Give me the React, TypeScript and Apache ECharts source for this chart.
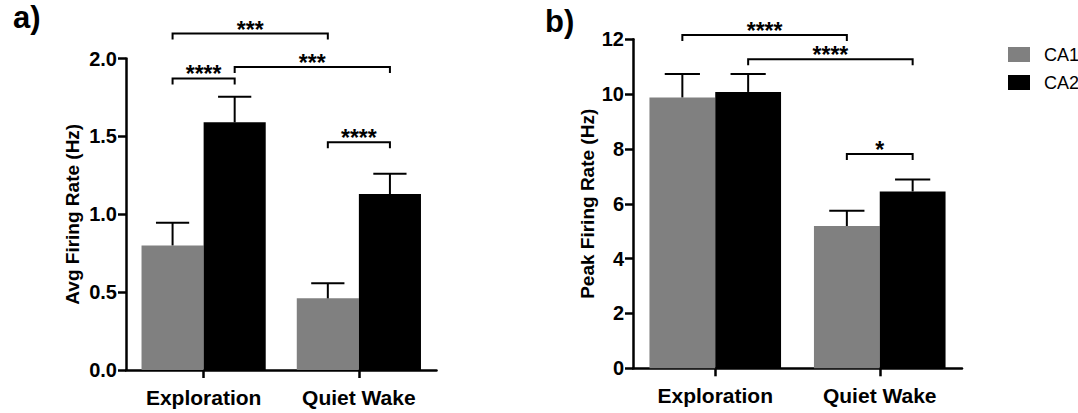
import React, { useEffect, useRef } from "react";
import * as echarts from "echarts";

const categories = ["Exploration", "Quiet Wake"];
const groupNames = ["CA1", "CA2"];
const groupColors = ["#808080", "#000000"];

// Panel a) Avg firing rate (Hz)
const avgCA1 = [0.8, 0.46];
const avgCA1Sem = [0.145, 0.097];
const avgCA2 = [1.59, 1.13];
const avgCA2Sem = [0.165, 0.13];
const avgTicks = { min: 0, max: 2, interval: 0.5 };
// [category1, group1, category2, group2, bracket level]
const avgBracketPairs = [
  [0, 0, 1, 0, 2.16],
  [0, 1, 1, 1, 1.945],
  [0, 0, 0, 1, 1.872],
  [1, 0, 1, 1, 1.462],
];
const avgBracketLabels = ["***", "***", "****", "****"];

// Panel b) Peak firing rate (Hz)
const peakCA1 = [9.88, 5.19];
const peakCA1Sem = [0.85, 0.56];
const peakCA2 = [10.08, 6.45];
const peakCA2Sem = [0.65, 0.44];
const peakTicks = { min: 0, max: 12, interval: 2 };
const peakBracketPairs = [
  [0, 0, 1, 0, 12.16],
  [0, 1, 1, 1, 11.27],
  [1, 0, 1, 1, 7.82],
];
const peakBracketLabels = ["****", "****", "*"];

const FONT = '"Liberation Sans", Arial, Helvetica, sans-serif';
const BAR_OFFSET = 0.2; // fraction of band from center to each bar center

function errorData(m1: number[], s1: number[], m2: number[], s2: number[]) {
  const out: number[][] = [];
  categories.forEach((_, i) => {
    out.push([i, 0, m1[i], m1[i] + s1[i]]);
    out.push([i, 1, m2[i], m2[i] + s2[i]]);
  });
  return out;
}

function errorRender(params: any, api: any) {
  const cat = api.value(0);
  const g = api.value(1);
  const band = api.size([1, 0])[0];
  const base = api.coord([cat, api.value(2)]);
  const top = api.coord([cat, api.value(3)]);
  const x = base[0] + (g === 0 ? -1 : 1) * BAR_OFFSET * band;
  const hw = 0.107 * band;
  const style = { stroke: "#000", lineWidth: 2, fill: null };
  return {
    type: "group",
    children: [
      { type: "line", shape: { x1: x, y1: base[1], x2: x, y2: top[1] }, style },
      { type: "line", shape: { x1: x - hw, y1: top[1], x2: x + hw, y2: top[1] }, style },
    ],
  };
}

function bracketRender(labels: string[]) {
  return (params: any, api: any) => {
    const band = api.size([1, 0])[0];
    const y = api.value(4);
    const p1 = api.coord([api.value(0), y]);
    const p2 = api.coord([api.value(2), y]);
    const x1 = p1[0] + (api.value(1) === 0 ? -1 : 1) * BAR_OFFSET * band;
    const x2 = p2[0] + (api.value(3) === 0 ? -1 : 1) * BAR_OFFSET * band;
    const yy = p1[1];
    return {
      type: "group",
      children: [
        {
          type: "polyline",
          shape: { points: [[x1, yy + 6], [x1, yy], [x2, yy], [x2, yy + 6]] },
          style: { stroke: "#000", lineWidth: 2, fill: null },
        },
        {
          type: "text",
          style: {
            text: labels[params.dataIndex],
            x: (x1 + x2) / 2,
            y: yy - 4,
            align: "center",
            verticalAlign: "middle",
            fontSize: 23,
            fontWeight: "bold",
            fontFamily: FONT,
            fill: "#000",
          },
        },
      ],
    };
  };
}

export default function App() {
  const ref = useRef<HTMLDivElement>(null);
  useEffect(() => {
    if (!ref.current) return;
    const chart = echarts.init(ref.current, null, { renderer: "svg" });
    const axisLine = { show: true, lineStyle: { color: "#000", width: 2.5 } };
    const axisTick = { show: true, length: 8, lineStyle: { color: "#000", width: 2.5 } };
    const labelStyle = { color: "#000", fontSize: 20, fontWeight: "bold", fontFamily: FONT };
    const xAxisCommon = {
      type: "category",
      data: categories,
      axisLine,
      axisTick: { ...axisTick, alignWithLabel: true },
      axisLabel: { ...labelStyle, fontSize: 21, margin: 17 },
      splitLine: { show: false },
    };
    const yAxisCommon = {
      type: "value",
      nameLocation: "middle",
      nameRotate: 90,
      nameTextStyle: { color: "#000", fontSize: 19, fontWeight: "bold", fontFamily: FONT },
      axisLine,
      axisTick,
      splitLine: { show: false },
    };
    const barCommon = { type: "bar", barGap: "0%", barCategoryGap: "20%" };
    chart.setOption({
      animation: false,
      backgroundColor: "#fff",
      legend: {
        data: groupNames,
        orient: "vertical",
        left: 1003,
        top: 40.5,
        itemWidth: 22,
        itemHeight: 15,
        itemGap: 10,
        selectedMode: false,
        icon: "rect",
        textStyle: { color: "#000", fontSize: 18, fontFamily: FONT, padding: [0, 0, 0, 9] },
      },
      grid: [
        { left: 126, top: 58.5, width: 310.5, height: 311.5, outerBoundsMode: "none" },
        { left: 633, top: 39.3, width: 329, height: 329, outerBoundsMode: "none" },
      ],
      xAxis: [
        { ...xAxisCommon, gridIndex: 0 },
        { ...xAxisCommon, gridIndex: 1 },
      ],
      yAxis: [
        {
          ...yAxisCommon,
          gridIndex: 0,
          ...avgTicks,
          name: "Avg Firing Rate (Hz)",
          nameGap: 44,
          axisLabel: { ...labelStyle, margin: 9, formatter: (v: number) => v.toFixed(1) },
        },
        {
          ...yAxisCommon,
          gridIndex: 1,
          ...peakTicks,
          name: "Peak Firing Rate (Hz)",
          nameGap: 36,
          axisLabel: { ...labelStyle, margin: 9 },
        },
      ],
      graphic: [
        {
          type: "text",
          left: 13,
          top: 2,
          style: { text: "a)", fontSize: 31, fontWeight: "bold", fontFamily: FONT, fill: "#000" },
        },
        {
          type: "text",
          left: 545,
          top: 6,
          style: { text: "b)", fontSize: 31, fontWeight: "bold", fontFamily: FONT, fill: "#000" },
        },
      ],
      series: [
        { ...barCommon, name: groupNames[0], xAxisIndex: 0, yAxisIndex: 0, data: avgCA1, itemStyle: { color: groupColors[0] } },
        { ...barCommon, name: groupNames[1], xAxisIndex: 0, yAxisIndex: 0, data: avgCA2, itemStyle: { color: groupColors[1] } },
        { ...barCommon, name: groupNames[0], xAxisIndex: 1, yAxisIndex: 1, data: peakCA1, itemStyle: { color: groupColors[0] } },
        { ...barCommon, name: groupNames[1], xAxisIndex: 1, yAxisIndex: 1, data: peakCA2, itemStyle: { color: groupColors[1] } },
        {
          type: "custom",
          xAxisIndex: 0,
          yAxisIndex: 0,
          z: 5,
          renderItem: errorRender,
          encode: { x: 0, y: 3 },
          data: errorData(avgCA1, avgCA1Sem, avgCA2, avgCA2Sem),
        },
        {
          type: "custom",
          xAxisIndex: 1,
          yAxisIndex: 1,
          z: 5,
          renderItem: errorRender,
          encode: { x: 0, y: 3 },
          data: errorData(peakCA1, peakCA1Sem, peakCA2, peakCA2Sem),
        },
        {
          type: "custom",
          xAxisIndex: 0,
          yAxisIndex: 0,
          z: 5,
          clip: false,
          renderItem: bracketRender(avgBracketLabels),
          encode: { x: [0, 2], y: 4 },
          data: avgBracketPairs,
        },
        {
          type: "custom",
          xAxisIndex: 1,
          yAxisIndex: 1,
          z: 5,
          clip: false,
          renderItem: bracketRender(peakBracketLabels),
          encode: { x: [0, 2], y: 4 },
          data: peakBracketPairs,
        },
      ],
    });
    return () => chart.dispose();
  }, []);
  return (
    <div
      ref={ref}
      style={{ position: "fixed", left: 0, top: 0, width: 1078, height: 413, background: "#fff" }}
    />
  );
}
